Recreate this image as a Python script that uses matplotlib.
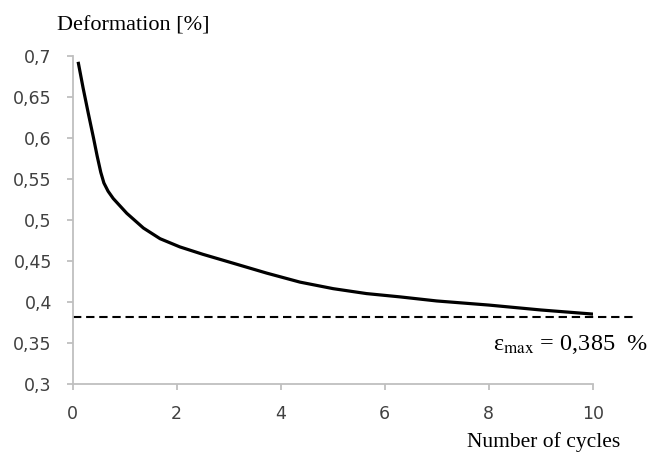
import matplotlib
matplotlib.use("Agg")
import matplotlib.pyplot as plt

# values
cycles = [0.11, 0.20, 0.30, 0.40, 0.47, 0.54, 0.60, 0.68, 0.78, 1.04, 1.36, 1.68,
          2.06, 2.50, 3.09, 3.73, 4.37, 5.01, 5.65, 6.29, 7.0, 8.0, 9.0, 10.0]
deform = [0.691, 0.661, 0.630, 0.600, 0.578, 0.558, 0.545, 0.535, 0.526, 0.508, 0.490, 0.477,
          0.467, 0.458, 0.447, 0.435, 0.424, 0.416, 0.410, 0.406, 0.401, 0.396, 0.390, 0.385]
eps_max = 0.381
eps_span = [0, 10.85]
x_ticks = [0, 2, 4, 6, 8, 10]
y_ticks = [0.3, 0.35, 0.4, 0.45, 0.5, 0.55, 0.6, 0.65, 0.7]
y_labels = ["0,3", "0,35", "0,4", "0,45", "0,5", "0,55", "0,6", "0,65", "0,7"]

plt.rcParams["mathtext.fontset"] = "stix"
W, H = 662, 453
fig = plt.figure(figsize=(W / 100, H / 100), dpi=100)
ax = fig.add_axes([72.7 / W, 1 - 383.7 / H, 520 / W, 327.7 / H])

ax.plot(cycles, deform, color="black", lw=2.3, solid_joinstyle="round")
ax.plot(eps_span, [eps_max, eps_max], color="black", lw=1.5,
        dashes=(4, 2.3), clip_on=False)

ax.set_xlim(0, 10)
ax.set_ylim(0.3, 0.7)
ax.set_xticks(x_ticks)
ax.set_xticklabels([str(t) for t in x_ticks])
ax.set_yticks(y_ticks)
ax.set_yticklabels(y_labels)

for s in ("top", "right"):
    ax.spines[s].set_visible(False)
for s in ("left", "bottom"):
    ax.spines[s].set_color("#bfbfbf")
    ax.spines[s].set_linewidth(1.3)
ax.tick_params(axis="both", colors="#bfbfbf", length=4.5, width=1.3,
               labelsize=12.5, labelcolor="#404040")
ax.tick_params(axis="x", pad=11)
ax.tick_params(axis="y", pad=10.5)

serif = "Liberation Serif"
fig.text(57 / W, 1 - 30 / H, "Deformation [%]", family=serif, fontsize=16,
         ha="left", va="baseline")
fig.text(620 / W, 1 - 447 / H, "Number of cycles", family=serif, fontsize=15.5,
         ha="right", va="baseline")
ax.text(8.08, 0.341, "\u03b5$_{\\mathrm{max}}$ = 0,385  %", family=serif,
        fontsize=17.5, ha="left", va="baseline")

fig.savefig("out.png", dpi=100)
